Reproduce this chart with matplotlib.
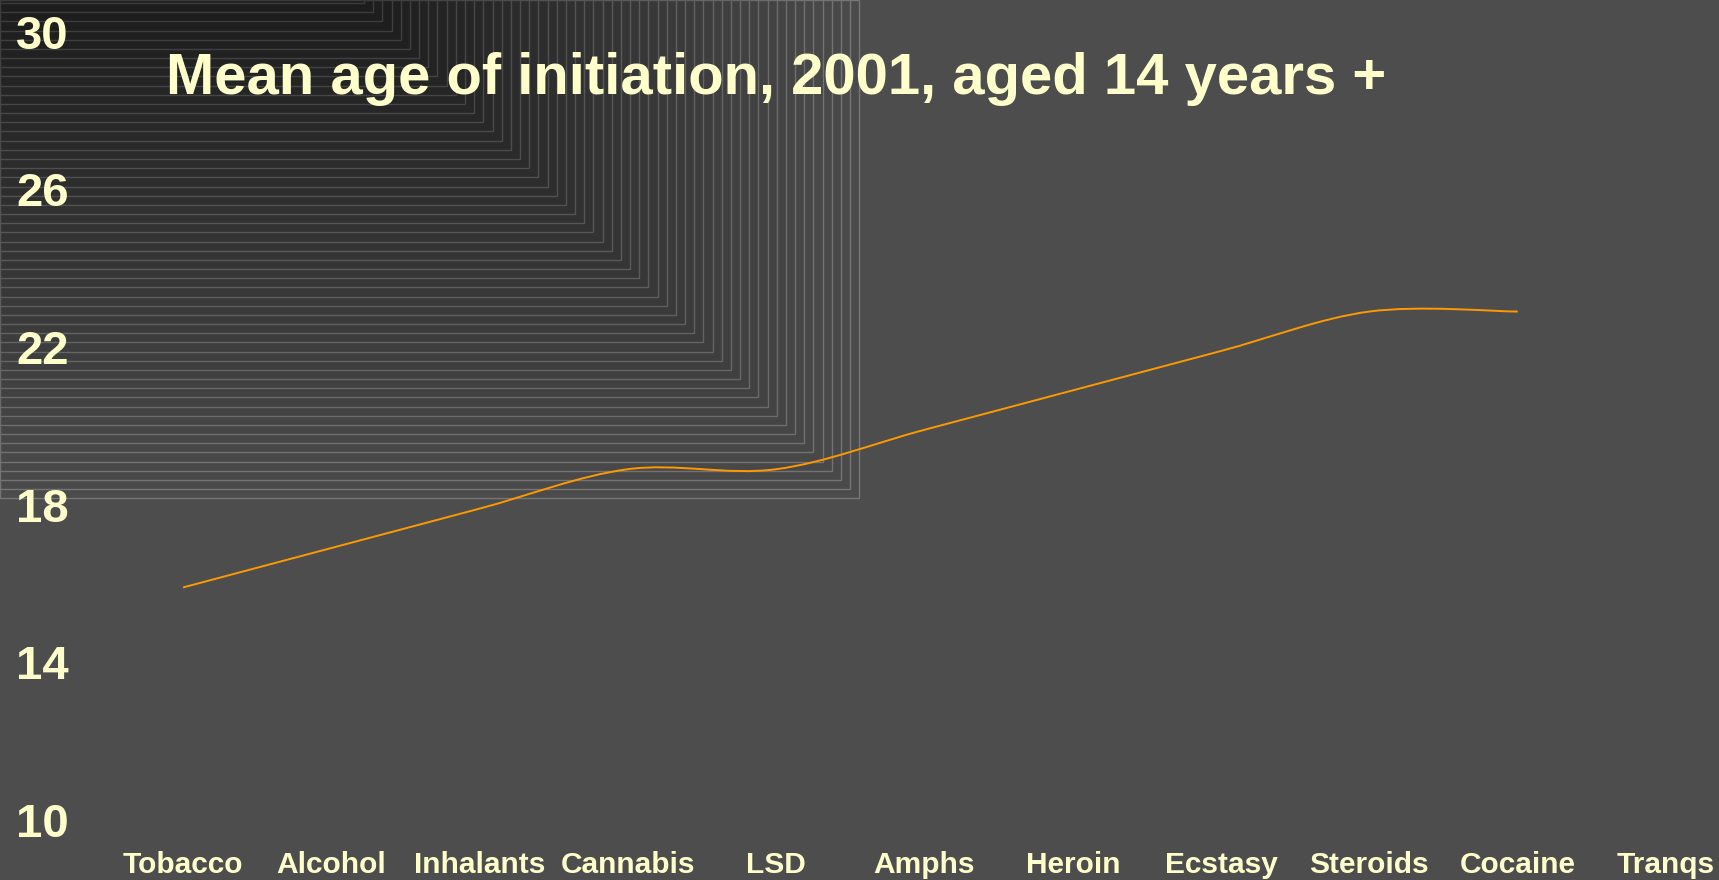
import numpy as np
import matplotlib
matplotlib.use("Agg")
import matplotlib.pyplot as plt
from matplotlib.patches import Rectangle, PathPatch
from matplotlib.path import Path
import matplotlib.colors as mcolors

# ---- data -------------------------------------------------------------
substances = ["Tobacco", "Alcohol", "Inhalants", "Cannabis", "LSD", "Amphs",
              "Heroin", "Ecstasy", "Steroids", "Cocaine", "Tranqs"]
mean_age = [15.9, 16.9, 17.9, 18.9, 18.9, 19.9, 20.9, 21.9, 22.9, 22.9, np.nan]
y_ticks = [10, 14, 18, 22, 26, 30]
title = "Mean age of initiation, 2001, aged 14 years +"

# ---- style ------------------------------------------------------------
BG = "#4d4d4d"
TEXT = "#ffffcc"
LINE = "#ff9900"
FONT = ["Liberation Sans", "DejaVu Sans"]

W, H, DPI = 1719, 880, 100
fig = plt.figure(figsize=(W / DPI, H / DPI), dpi=DPI, facecolor=BG)

# stepped dark backdrop spreading from the upper-left corner
n_bands = 56
step = 9.17
corner_x, corner_y = 859.3, 498.3
c_out = np.array(mcolors.to_rgb("#4b4b4b"))
c_in = np.array(mcolors.to_rgb("#1b1b1b"))
for k in range(n_bands):
    t = k / (n_bands - 1)
    fill = c_out * (1 - t) + c_in * t
    edge = np.clip(fill + 0.17 - 0.05 * t, 0, 1)
    cx = corner_x - k * step
    cy = corner_y - k * step
    fig.add_artist(Rectangle((0, 1 - cy / H), cx / W, cy / H,
                             transform=fig.transFigure, facecolor=fill,
                             edgecolor=edge, linewidth=1.0, zorder=-10 + k * 0.01))

# ---- axes -------------------------------------------------------------
ax = fig.add_axes([108.85 / W, 60 / H, 1631.3 / W, 788.3 / H])
ax.set_facecolor("none")
ax.set_xlim(-0.5, len(substances) - 0.5)
ax.set_ylim(10, 30)
for s in ax.spines.values():
    s.set_visible(False)

ax.set_xticks(range(len(substances)))
ax.set_xticklabels(substances)
ax.set_yticks(y_ticks)
ax.set_yticklabels([str(v) for v in y_ticks])
ax.tick_params(length=0, colors=TEXT)
ax.tick_params(axis="x", pad=22)
ax.tick_params(axis="y", pad=29)
for lab in ax.get_xticklabels():
    lab.set_fontfamily(FONT)
    lab.set_fontweight("bold")
    lab.set_fontsize(21.5)
for lab in ax.get_yticklabels():
    lab.set_fontfamily(FONT)
    lab.set_fontweight("bold")
    lab.set_fontsize(34)

# smoothed line through the valid points (cardinal spline as Bezier segments)
xs = np.arange(len(substances), dtype=float)
ys = np.array(mean_age, dtype=float)
ok = ~np.isnan(ys)
px, py = xs[ok], ys[ok]
pts = np.column_stack([px, py])
n = len(pts)
verts = [tuple(pts[0])]
codes = [Path.MOVETO]
for i in range(n - 1):
    p0 = pts[max(i - 1, 0)]
    p1 = pts[i]
    p2 = pts[i + 1]
    p3 = pts[min(i + 2, n - 1)]
    c1 = p1 + (p2 - p0) / 6.0
    c2 = p2 - (p3 - p1) / 6.0
    verts += [tuple(c1), tuple(c2), tuple(p2)]
    codes += [Path.CURVE4] * 3
ax.add_patch(PathPatch(Path(verts, codes), facecolor="none", edgecolor=LINE,
                       linewidth=1.4, zorder=3))

# ---- title ------------------------------------------------------------
fig.text(165.7 / W, 1 - 94.3 / H, title, color=TEXT, fontsize=41.8,
         fontweight="bold", family=FONT, ha="left", va="baseline")

fig.savefig("out.png", dpi=DPI, facecolor=BG)
